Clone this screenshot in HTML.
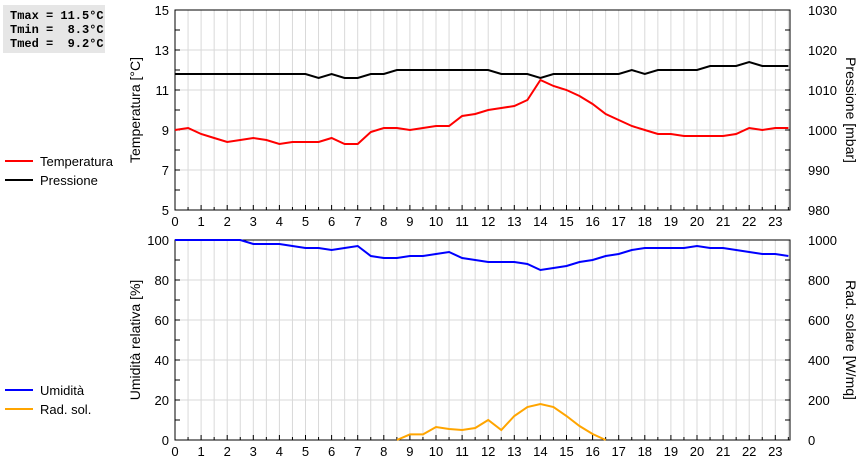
<!DOCTYPE html>
<html><head><meta charset="utf-8"><style>
body{margin:0;background:#fff;font-family:"Liberation Sans",sans-serif}
svg text{font-family:"Liberation Sans",sans-serif;font-size:13px;fill:#000}
</style></head><body>
<svg id="c" width="860" height="460" xmlns="http://www.w3.org/2000/svg">
<rect x="3" y="5" width="102" height="48" fill="#e6e6e6"/>
<text x="10" y="19" style="font-family:'Liberation Mono',monospace;font-size:12px;font-weight:bold" xml:space="preserve">Tmax = 11.5°C</text>
<text x="10" y="33" style="font-family:'Liberation Mono',monospace;font-size:12px;font-weight:bold" xml:space="preserve">Tmin =  8.3°C</text>
<text x="10" y="47" style="font-family:'Liberation Mono',monospace;font-size:12px;font-weight:bold" xml:space="preserve">Tmed =  9.2°C</text>
<g>
<line x1="5" y1="161" x2="33" y2="161" stroke="#f00" stroke-width="2"/><text x="40" y="166">Temperatura</text>
<line x1="5" y1="180" x2="33" y2="180" stroke="#000" stroke-width="2"/><text x="40" y="185">Pressione</text>
</g>
<g>
<line x1="5" y1="390" x2="33" y2="390" stroke="#00f" stroke-width="2"/><text x="40" y="395">Umidità</text>
<line x1="5" y1="409" x2="33" y2="409" stroke="#ffa500" stroke-width="2"/><text x="40" y="414">Rad. sol.</text>
</g>
<g id="g"></g>
</svg>
<script>
const hours=[0,0.5,1,1.5,2,2.5,3,3.5,4,4.5,5,5.5,6,6.5,7,7.5,8,8.5,9,9.5,10,10.5,11,11.5,12,12.5,13,13.5,14,14.5,15,15.5,16,16.5,17,17.5,18,18.5,19,19.5,20,20.5,21,21.5,22,22.5,23,23.5];
const temperature=[9.0,9.1,8.8,8.6,8.4,8.5,8.6,8.5,8.3,8.4,8.4,8.4,8.6,8.3,8.3,8.9,9.1,9.1,9.0,9.1,9.2,9.2,9.7,9.8,10.0,10.1,10.2,10.5,11.5,11.2,11.0,10.7,10.3,9.8,9.5,9.2,9.0,8.8,8.8,8.7,8.7,8.7,8.7,8.8,9.1,9.0,9.1,9.1];
const pressure=[1014,1014,1014,1014,1014,1014,1014,1014,1014,1014,1014,1013,1014,1013,1013,1014,1014,1015,1015,1015,1015,1015,1015,1015,1015,1014,1014,1014,1013,1014,1014,1014,1014,1014,1014,1015,1014,1015,1015,1015,1015,1016,1016,1016,1017,1016,1016,1016];
const humidity=[100,100,100,100,100,100,98,98,98,97,96,96,95,96,97,92,91,91,92,92,93,94,91,90,89,89,89,88,85,86,87,89,90,92,93,95,96,96,96,96,97,96,96,95,94,93,93,92];
const solar=[null,null,null,null,null,null,null,null,null,null,null,null,null,null,null,null,null,0,28,28,65,55,50,60,100,50,120,165,180,165,120,70,30,0,null,null,null,null,null,null,null,null,null,null,null,null,null,null];
const tempTicks=[5,7,9,11,13,15];
const presTicks=[980,990,1000,1010,1020,1030];
const humTicks=[0,20,40,60,80,100];
const solTicks=[0,200,400,600,800,1000];
const hourTicks=[0,1,2,3,4,5,6,7,8,9,10,11,12,13,14,15,16,17,18,19,20,21,22,23];

const NS="http://www.w3.org/2000/svg",G=document.getElementById('g');
const X0=175,X1=790,PPH=26.1;
const x=h=>X0+h*PPH;
function mk(t,a,name){const e=document.createElementNS(NS,t);for(const k in a)e.setAttribute(k,a[k]);


G.appendChild(e);return e;}
function panel(top,bot,lmin,lmax,rmin,rmax,lt,rt,ltitle,rtitle,p){
 const yl=v=>bot-(v-lmin)/(lmax-lmin)*(bot-top);
 for(let h=0.5;h<23.6;h+=0.5)mk('line',{x1:x(h),x2:x(h),y1:top,y2:bot,stroke:'#d9d9d9'},p+'-vgrid');
 lt.forEach(v=>{if(v>lmin&&v<lmax)mk('line',{x1:X0,x2:X1,y1:yl(v),y2:yl(v),stroke:'#d9d9d9'},p+'-hgrid');});
 mk('rect',{x:X0,y:top,width:X1-X0,height:bot-top,fill:'none',stroke:'#000'},p+'-frame');
 const step=(lt[1]-lt[0])/2;
 for(let v=lmin;v<=lmax+1e-9;v+=step){const y=yl(v);mk('line',{x1:X0,x2:X0+5,y1:y,y2:y,stroke:'#000'},p+'-ltick');mk('line',{x1:X1-5,x2:X1,y1:y,y2:y,stroke:'#000'},p+'-rtick');}
 lt.forEach(v=>{const t=mk('text',{x:X0-6,y:yl(v)+5,'text-anchor':'end'},p+'-left-label');t.textContent=v;});
 rt.forEach((v,i)=>{const y=bot-(v-rmin)/(rmax-rmin)*(bot-top);const t=mk('text',{x:X1+18,y:y+5},p+'-right-label');t.textContent=v;});
 hourTicks.forEach(h=>{mk('line',{x1:x(h),x2:x(h),y1:bot-5,y2:bot,stroke:'#000'},p+'-xtick');mk('line',{x1:x(h)+PPH/2,x2:x(h)+PPH/2,y1:bot-3,y2:bot,stroke:'#000'},p+'-xminor');const t=mk('text',{x:x(h),y:bot+16,'text-anchor':'middle'},p+'-x-label');t.textContent=h;});
 const mid=(top+bot)/2;
 let t=mk('text',{x:0,y:0,transform:`translate(140,${mid}) rotate(-90)`,'text-anchor':'middle',style:'font-size:14px'},p+'-left-title');t.textContent=ltitle;
 t=mk('text',{x:0,y:0,transform:`translate(846,${mid}) rotate(90)`,'text-anchor':'middle',style:'font-size:14px'},p+'-right-title');t.textContent=rtitle;
}
function series(vals,top,bot,mn,mx,col,name){
 let d='';let pen=false;
 vals.forEach((v,i)=>{if(v==null){pen=false;return;}const y=bot-(v-mn)/(mx-mn)*(bot-top);d+=(pen?'L':'M')+x(hours[i]).toFixed(1)+' '+y.toFixed(1);pen=true;});
 mk('path',{d:d,fill:'none',stroke:col,'stroke-width':2},name);
}
panel(10,210,5,15,980,1030,tempTicks,presTicks,'Temperatura [°C]','Pressione [mbar]','top');
series(pressure,10,210,980,1030,'#000','pressure-line');
series(temperature,10,210,5,15,'#f00','temperature-line');
panel(240,440,0,100,0,1000,humTicks,solTicks,'Umidità relativa [%]','Rad. solare [W/mq]','bottom');
series(solar,240,440,0,1000,'#ffa500','solar-line');
series(humidity,240,440,0,100,'#00f','humidity-line');
</script>
</body></html>
